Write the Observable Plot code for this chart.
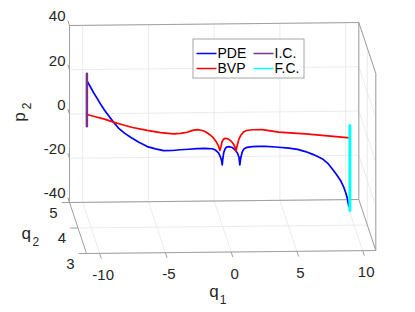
<!DOCTYPE html>
<html><head><meta charset="utf-8">
<script src="https://cdn.jsdelivr.net/npm/d3@7"></script>
<script src="https://cdn.jsdelivr.net/npm/@observablehq/plot@0.6"></script>
<style>html,body{margin:0;padding:0;background:#fff;}</style>
</head><body><div id="chart"></div>
<script>
// ---- data ----
const q1Lim = [-11, 11];
const q2Lim = [3, 5];
const p2Lim = [-40, 40];
const q1Ticks = [-10, -5, 0, 5, 10];
const q2Ticks = [3, 4, 5];
const p2Ticks = [-40, -20, 0, 20, 40];
const q2Curve = 4.5;

const pdeQ1 = [-10.00,-9.73,-9.50,-9.22,-8.97,-8.67,-8.36,-7.98,-7.60,-7.14,-6.68,-6.08,-5.41,-4.78,-4.17,-3.49,-2.88,-2.27,-1.61,-1.05,-0.47,-0.22,0.01,0.16,0.25,0.29,0.34,0.41,0.51,0.62,0.81,1.04,1.26,1.45,1.57,1.63,1.70,1.80,1.93,2.18,2.57,3.05,3.58,4.34,5.35,6.02,6.62,7.23,7.89,8.30,8.65,8.98,9.29,9.51,9.67,9.80,9.87,9.92];
const pdeP2 = [20.8,17.9,15.4,12.7,10.2,7.4,4.9,1.9,-0.8,-3.1,-5.0,-7.2,-9.3,-10.4,-11.2,-11.2,-10.9,-10.7,-10.5,-10.4,-10.6,-11.2,-12.5,-14.4,-16.2,-17.9,-15.0,-12.3,-10.7,-9.9,-9.7,-10.1,-11.2,-12.6,-14.7,-18.0,-14.9,-12.4,-10.9,-10.1,-9.8,-9.7,-9.8,-10.1,-10.7,-11.3,-12.3,-13.7,-15.6,-17.6,-20.2,-22.8,-25.5,-28.3,-30.9,-33.5,-35.8,-37.1];

const bvpQ1 = [-10.00,-9.35,-8.66,-7.98,-7.29,-6.53,-5.41,-4.40,-3.41,-2.88,-2.37,-1.97,-1.61,-1.23,-0.98,-0.68,-0.41,-0.18,0.01,0.11,0.20,0.27,0.39,0.54,0.73,0.92,1.11,1.25,1.34,1.43,1.55,1.72,1.91,2.14,2.59,3.33,4.59,6.62,8.52,10.00];
const bvpP2 = [5.5,4.4,3.3,1.9,0.7,-0.6,-2.0,-3.1,-3.7,-3.5,-3.0,-2.2,-1.9,-2.3,-2.9,-4.1,-5.5,-7.3,-9.4,-11.4,-9.6,-7.6,-6.3,-5.9,-6.2,-7.0,-8.2,-9.8,-11.9,-9.2,-6.5,-4.5,-3.2,-2.5,-2.2,-2.2,-3.4,-4.3,-5.4,-6.3];

const icQ1 = -10, icP2 = [0.2, 23.9];
const fcQ1 = 10, fcP2 = [-39.1, -0.7];

const legendNames = ["PDE", "BVP", "I.C.", "F.C."];
const legendColors = ["#0000ff", "#ff0000", "#7e2f8e", "#00ffff"];

// ---- 3-D view (orthographic camera) ----
const W = 415, H = 312;
const view = {x0: 69, y0: 202, ax: 13.15, ay: -0.136, bx: -8.5, by: -25.5, cz: -2.2125};
function proj(q1, q2, z) {
  const a = q1 - q1Lim[0], b = q2 - q2Lim[1], c = z - p2Lim[0];
  return [view.x0 + view.ax * a + view.bx * b, view.y0 + view.ay * a + view.by * b + view.cz * c];
}
function seg(p, q) {
  const [x1, y1] = proj(...p), [x2, y2] = proj(...q);
  return {x1, y1, x2, y2};
}
const [qa, qb] = q1Lim, [ra, rb] = q2Lim, [za, zb] = p2Lim;

const grid = [];
for (const z of p2Ticks) { grid.push(seg([qa, rb, z], [qb, rb, z])); grid.push(seg([qb, rb, z], [qb, ra, z])); }
for (const q of q1Ticks) { grid.push(seg([q, rb, za], [q, rb, zb])); grid.push(seg([q, rb, za], [q, ra, za])); }
for (const r of q2Ticks) { grid.push(seg([qa, r, za], [qb, r, za])); grid.push(seg([qb, r, za], [qb, r, zb])); }

const box = [
  seg([qa, rb, zb], [qb, rb, zb]),
  seg([qa, rb, za], [qa, rb, zb]),
  seg([qb, rb, za], [qb, rb, zb]),
  seg([qa, rb, za], [qb, rb, za]),
  seg([qa, rb, za], [qa, ra, za]),
  seg([qa, ra, za], [qb, ra, za]),
  seg([qb, rb, za], [qb, ra, za]),
  seg([qb, ra, za], [qb, ra, zb]),
  seg([qb, rb, zb], [qb, ra, zb])
];
const ticks = [
  ...p2Ticks.map(z => seg([qa, rb, z], [qa, rb + 0.2, z])),
  ...q2Ticks.map(r => seg([qa, r, za], [qa - 0.6, r, za])),
  ...q1Ticks.map(q => seg([q, ra, za], [q, ra - 0.2, za]))
];

const toXY = (q1s, zs) => q1s.map((q, i) => { const [x, y] = proj(q, q2Curve, zs[i]); return {x, y}; });
const pde = toXY(pdeQ1, pdeP2);
const bvp = toXY(bvpQ1, bvpP2);
const ic = toXY([icQ1, icQ1], icP2);
const fc = toXY([fcQ1, fcQ1], fcP2);

const P = (q1, q2, z) => { const [x, y] = proj(q1, q2, z); return {x, y}; };
const zLab = p2Ticks.map(v => ({...P(qa, rb, v), t: String(v)}));
const q2Lab = q2Ticks.map(v => ({...P(qa, v, za), t: String(v)}));
const q1Lab = q1Ticks.map(v => ({...P(v, ra, za), t: String(v)}));

// legend layout
const lg = {x: 193, y: 39, w: 111, h: 39, row: 15, col: 57, pad: 3, len: 20};
const legend = legendNames.map((n, i) => {
  const col = i < 2 ? 0 : 1, row = i % 2;
  const x = lg.x + lg.pad + col * lg.col, y = lg.y + 14 + row * lg.row;
  return {n, c: legendColors[i], x1: x, x2: x + lg.len, y};
});

const font = "'Liberation Sans', Arial, Helvetica, sans-serif";
const tc = "#262626";
const chart = Plot.plot({
  width: W, height: H,
  marginTop: 0, marginRight: 0, marginBottom: 0, marginLeft: 0,
  x: {domain: [0, W], range: [0, W], axis: null},
  y: {domain: [0, H], range: [0, H], axis: null},
  style: {fontFamily: font, background: "#fff"},
  marks: [
    Plot.link(grid, {x1: "x1", y1: "y1", x2: "x2", y2: "y2", stroke: "#e6e6e6", strokeWidth: 0.8}),
    Plot.link(box, {x1: "x1", y1: "y1", x2: "x2", y2: "y2", stroke: "#a0a0a0", strokeWidth: 1}),
    Plot.link(ticks, {x1: "x1", y1: "y1", x2: "x2", y2: "y2", stroke: "#a0a0a0", strokeWidth: 1}),
    Plot.text(zLab, {x: "x", y: "y", text: "t", textAnchor: "end", dx: -4, dy: -9, fontSize: 15, fill: tc}),
    Plot.text(q2Lab, {x: "x", y: "y", text: "t", textAnchor: "end", dx: -12, dy: 10.5, fontSize: 15, fill: tc}),
    Plot.text(q1Lab, {x: "x", y: "y", text: "t", textAnchor: "middle", dx: 3.5, dy: 22, fontSize: 15, fill: tc}),
    // axis titles
    Plot.text([P(0, ra, za)], {x: "x", y: "y", text: () => "q", textAnchor: "start", dx: -22, dy: 40, fontSize: 17, fill: tc}),
    Plot.text([P(0, ra, za)], {x: "x", y: "y", text: () => "1", textAnchor: "start", dx: -11.5, dy: 48, fontSize: 12, fill: tc}),
    Plot.text([P(qa, 4, za)], {x: "x", y: "y", text: () => "q", textAnchor: "start", dx: -56.5, dy: 6, fontSize: 17, fill: tc}),
    Plot.text([P(qa, 4, za)], {x: "x", y: "y", text: () => "2", textAnchor: "start", dx: -45.5, dy: 14, fontSize: 12, fill: tc}),
    Plot.text([P(qa, rb, 0)], {x: "x", y: "y", text: () => "p", rotate: -90, textAnchor: "middle", dx: -50, dy: 3, fontSize: 17, fill: tc}),
    Plot.text([P(qa, rb, 0)], {x: "x", y: "y", text: () => "2", rotate: -90, textAnchor: "middle", dx: -42, dy: -8, fontSize: 12, fill: tc}),
    // curves
    Plot.line(pde, {x: "x", y: "y", stroke: legendColors[0], strokeWidth: 1.7}),
    Plot.line(bvp, {x: "x", y: "y", stroke: legendColors[1], strokeWidth: 1.7}),
    Plot.line(ic, {x: "x", y: "y", stroke: legendColors[2], strokeWidth: 2.5}),
    Plot.line(fc, {x: "x", y: "y", stroke: legendColors[3], strokeWidth: 3}),
    // legend
    Plot.rect([lg], {x1: d => d.x, x2: d => d.x + d.w, y1: d => d.y, y2: d => d.y + d.h, fill: "#fff", stroke: "#a6a6a6", strokeWidth: 1}),
    Plot.link(legend, {x1: "x1", x2: "x2", y1: "y", y2: "y", stroke: "c", strokeWidth: 1.5}),
    Plot.text(legend, {x: "x2", y: "y", text: "n", textAnchor: "start", dx: 1, fontSize: 14, fill: "#000"})
  ]
});
document.getElementById("chart").appendChild(chart);
</script>
</body></html>
